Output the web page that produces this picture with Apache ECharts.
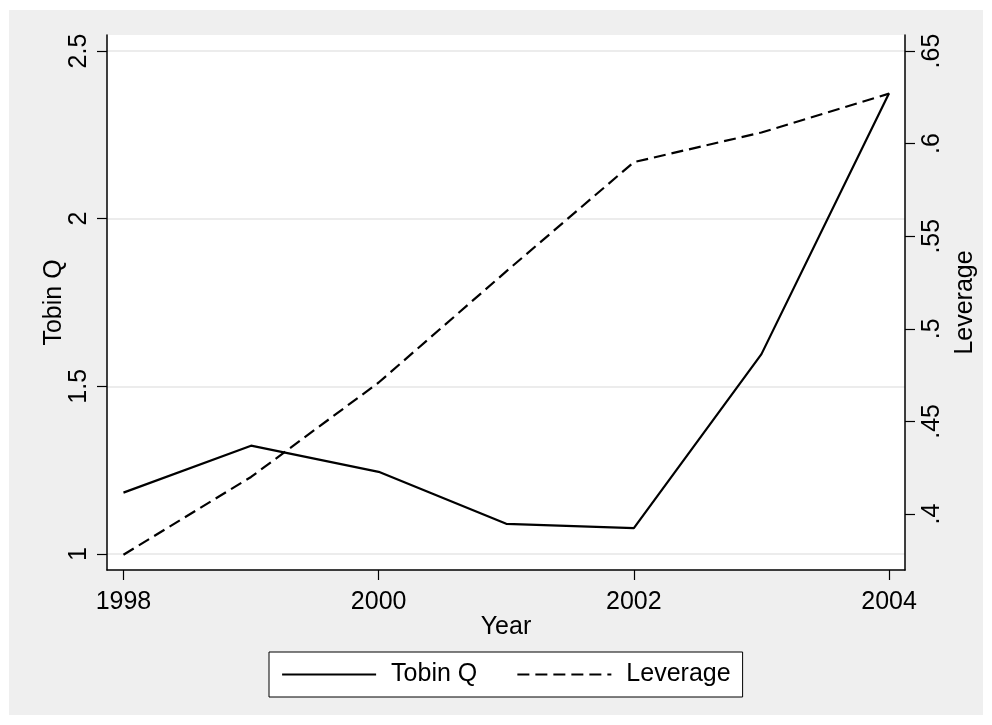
<!DOCTYPE html>
<html>
<head>
<meta charset="utf-8">
<script src="https://cdn.jsdelivr.net/npm/echarts@6/dist/echarts.min.js"></script>
<style>
  html, body { margin: 0; padding: 0; background: #ffffff; }
  #frame { position: absolute; left: 9px; top: 10px; width: 974px; height: 705px; background: #efefef; }
  #chart { position: absolute; left: 0; top: 0; width: 992px; height: 725px; }
</style>
</head>
<body>
<div id="frame"></div>
<div id="chart"></div>
<script>
// Firm-level averages by year
const years = [1998, 1999, 2000, 2001, 2002, 2003, 2004];
const tobinQ = [1.183, 1.323, 1.245, 1.090, 1.077, 1.596, 2.374];
const leverage = [0.378, 0.420, 0.471, 0.531, 0.590, 0.606, 0.627];

// Axis tick labels
const yearTicks = [1998, 2000, 2002, 2004];
const tobinTicks = [1, 1.5, 2, 2.5];
const leverageTicks = [0.4, 0.45, 0.5, 0.55, 0.6, 0.65];

const FONT = '"Liberation Sans", Arial, sans-serif';

const pairs = (vals) => years.map((y, i) => [y, vals[i]]);
const fmtLev = (v) => {
  let s = String(Math.round(v * 100) / 100);
  return s.startsWith('0') ? s.slice(1) : s;
};

const chart = echarts.init(document.getElementById('chart'), null, { renderer: 'canvas' });

chart.setOption({
  backgroundColor: 'transparent',
  animation: false,
  textStyle: { fontFamily: FONT, color: '#000' },
  grid: {
    left: 107, right: 87, top: 35, bottom: 155,
    show: true, backgroundColor: '#ffffff', borderWidth: 0
  },
  legend: {
    left: 269, top: 652,
    backgroundColor: '#ffffff',
    borderColor: '#000', borderWidth: 1,
    padding: [10, 12, 10, 12],
    itemGap: 39,
    itemWidth: 94, itemHeight: 14,
    itemStyle: { opacity: 0 },
    lineStyle: { width: 2.2 },
    textStyle: { fontFamily: FONT, fontSize: 25, color: '#000', padding: [0, 0, 0, 10] },
    data: ['Tobin Q', 'Leverage']
  },
  xAxis: {
    type: 'value',
    min: 1997.871, max: 2004.125,
    name: 'Year', nameLocation: 'middle', nameGap: 45, nameMoveOverlap: false,
    nameTextStyle: { fontFamily: FONT, fontSize: 25, color: '#000' },
    axisLine: { show: true, lineStyle: { color: '#000', width: 1.5 } },
    axisTick: { show: true, length: 10, lineStyle: { color: '#000', width: 1.2 }, customValues: yearTicks },
    axisLabel: { fontFamily: FONT, fontSize: 25, color: '#000', margin: 20, customValues: yearTicks, formatter: (v) => String(v) },
    splitLine: { show: false }
  },
  yAxis: [
    {
      type: 'value', position: 'left',
      min: 0.95229, max: 2.54771,
      name: 'Tobin Q', nameLocation: 'middle', nameGap: 40, nameRotate: 90, nameMoveOverlap: false,
      nameTextStyle: { fontFamily: FONT, fontSize: 25, color: '#000' },
      axisLine: { show: true, lineStyle: { color: '#000', width: 1.5 } },
      axisTick: { show: true, length: 10, lineStyle: { color: '#000', width: 1.2 }, customValues: tobinTicks },
      axisLabel: { fontFamily: FONT, fontSize: 25, color: '#000', rotate: 90, margin: 15, customValues: tobinTicks, formatter: (v) => String(v) },
      splitLine: { show: true, lineStyle: { color: '#e6e6e6', width: 1.5 } }
    },
    {
      type: 'value', position: 'right',
      min: 0.36976, max: 0.65864,
      name: 'Leverage', nameLocation: 'middle', nameGap: 45, nameRotate: 90,
      nameTextStyle: { fontFamily: FONT, fontSize: 25, color: '#000' },
      axisLine: { show: true, lineStyle: { color: '#000', width: 1.5 } },
      axisTick: { show: true, length: 10, lineStyle: { color: '#000', width: 1.2 }, customValues: leverageTicks },
      axisLabel: { fontFamily: FONT, fontSize: 25, color: '#000', rotate: 90, margin: 15, customValues: leverageTicks, formatter: fmtLev },
      splitLine: { show: false }
    }
  ],
  series: [
    {
      name: 'Tobin Q', type: 'line', yAxisIndex: 0,
      data: pairs(tobinQ),
      symbol: 'none', color: '#000',
      lineStyle: { color: '#000', width: 2.2 }
    },
    {
      name: 'Leverage', type: 'line', yAxisIndex: 1,
      data: pairs(leverage),
      symbol: 'none', color: '#000',
      lineStyle: { color: '#000', width: 2.2, type: [12, 6] }
    }
  ]
});
</script>
</body>
</html>
